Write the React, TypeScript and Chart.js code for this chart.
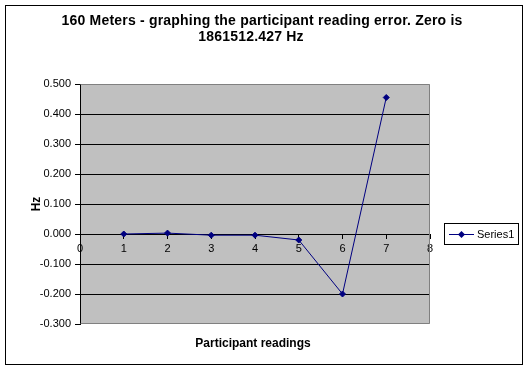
import React, { useEffect, useRef } from "react";
import { Chart, registerables } from "chart.js";

Chart.register(...registerables);

const TITLE_LINES = ["160 Meters - graphing the participant reading error. Zero is", "1861512.427 Hz"];
const X_TITLE = "Participant readings";
const Y_TITLE = "Hz";
const SERIES_NAME = "Series1";

const readings = [1, 2, 3, 4, 5, 6, 7];
const errors = [0.0, 0.003, -0.004, -0.004, -0.02, -0.2, 0.455];

const X_MIN = 0;
const X_MAX = 8;
const X_STEP = 1;
const Y_MIN = -0.3;
const Y_MAX = 0.5;
const Y_STEP = 0.1;

const FONT = "'Liberation Sans', Arial, sans-serif";
const NAVY = "#000080";

function drawDiamond(ctx: CanvasRenderingContext2D, x: number, y: number, r: number) {
  ctx.beginPath();
  ctx.moveTo(x, y - r);
  ctx.lineTo(x + r, y);
  ctx.lineTo(x, y + r);
  ctx.lineTo(x - r, y);
  ctx.closePath();
  ctx.fill();
}

const decor = {
  id: "decor",
  beforeDraw(chart: any) {
    const { ctx, chartArea } = chart;
    ctx.save();
    ctx.fillStyle = "#ffffff";
    ctx.fillRect(0, 0, chart.width, chart.height);
    ctx.strokeStyle = "#000000";
    ctx.lineWidth = 1;
    ctx.strokeRect(5.5, 5.5, 517, 359);
    ctx.fillStyle = "#c0c0c0";
    ctx.fillRect(chartArea.left, chartArea.top, chartArea.right - chartArea.left, chartArea.bottom - chartArea.top);
    ctx.restore();
  },
  afterDraw(chart: any) {
    const { ctx, chartArea } = chart;
    ctx.save();
    ctx.strokeStyle = "#808080";
    ctx.lineWidth = 1;
    const l = Math.round(chartArea.left) + 0.5;
    const t = Math.round(chartArea.top) + 0.5;
    const r = Math.round(chartArea.right) - 0.5;
    const b = Math.round(chartArea.bottom) - 0.5;
    ctx.beginPath();
    ctx.moveTo(l, t);
    ctx.lineTo(r, t);
    ctx.lineTo(r, b);
    ctx.lineTo(l, b);
    ctx.stroke();

    ctx.fillStyle = "#000000";
    ctx.textBaseline = "middle";
    ctx.textAlign = "center";
    (ctx as any).letterSpacing = "0.2px";
    ctx.font = `bold 14px ${FONT}`;
    ctx.fillText(TITLE_LINES[0], 262, 21.5);
    ctx.fillText(TITLE_LINES[1], 251, 37.5);
    (ctx as any).letterSpacing = "0px";

    ctx.font = `bold 12px ${FONT}`;
    ctx.fillText(X_TITLE, 253, 344);

    ctx.save();
    ctx.translate(37, 204);
    ctx.rotate(-Math.PI / 2);
    ctx.fillText(Y_TITLE, 0, 0);
    ctx.restore();

    ctx.strokeStyle = "#000000";
    ctx.strokeRect(444.5, 223.5, 74, 21);
    ctx.strokeStyle = NAVY;
    ctx.beginPath();
    ctx.moveTo(449, 234.5);
    ctx.lineTo(474, 234.5);
    ctx.stroke();
    ctx.fillStyle = NAVY;
    drawDiamond(ctx, 461.5, 234.5, 3.5);
    ctx.fillStyle = "#000000";
    ctx.textAlign = "left";
    ctx.font = `11px ${FONT}`;
    ctx.fillText(SERIES_NAME, 477, 234.5);
    ctx.restore();
  },
};

export default function App() {
  const ref = useRef<HTMLCanvasElement | null>(null);

  useEffect(() => {
    document.body.style.margin = "0";
    const canvas = ref.current;
    if (!canvas) return;
    const chart = new Chart(canvas, {
      type: "line",
      data: {
        datasets: [
          {
            label: SERIES_NAME,
            data: readings.map((x, i) => ({ x, y: errors[i] })),
            borderColor: NAVY,
            backgroundColor: NAVY,
            borderWidth: 1,
            pointStyle: "rectRot",
            pointRadius: 3,
            pointBackgroundColor: NAVY,
            pointBorderColor: NAVY,
            pointBorderWidth: 1,
            tension: 0,
            fill: false,
          },
        ],
      },
      options: {
        responsive: false,
        animation: false,
        devicePixelRatio: 1,
        layout: { padding: { top: 84, right: 98, bottom: 46, left: 20 } },
        plugins: {
          legend: { display: false },
          title: { display: false },
          tooltip: { enabled: false },
        },
        scales: {
          x: {
            type: "linear",
            position: { y: 0 } as any,
            min: X_MIN,
            max: X_MAX,
            ticks: {
              stepSize: X_STEP,
              color: "#000000",
              font: { family: FONT, size: 11 },
              padding: 4,
              maxRotation: 0,
              autoSkip: false,
            },
            grid: {
              drawOnChartArea: false,
              drawTicks: true,
              tickLength: 4,
              tickColor: "#000000",
              color: "#000000",
            },
            border: { display: true, color: "#000000", width: 1 },
          },
          y: {
            type: "linear",
            position: "left",
            min: Y_MIN,
            max: Y_MAX,
            afterFit: (axis: any) => {
              axis.width = 60;
            },
            ticks: {
              stepSize: Y_STEP,
              color: "#000000",
              font: { family: FONT, size: 11 },
              padding: 4,
              callback: (v: any) => Number(v).toFixed(3),
            },
            grid: {
              color: (c: any) => {
                const v = c.tick ? c.tick.value : 0;
                if (Math.abs(v - Y_MAX) < 1e-6 || Math.abs(v - Y_MIN) < 1e-6) return "rgba(0,0,0,0)";
                return "#000000";
              },
              tickColor: "#000000",
              tickLength: 5,
              lineWidth: 1,
            },
            border: { display: true, color: "#000000", width: 1 },
          },
        },
      },
      plugins: [decor],
    });
    return () => chart.destroy();
  }, []);

  return (
    <div style={{ position: "fixed", left: 0, top: 0, width: 528, height: 370 }}>
      <canvas ref={ref} width={528} height={370} />
    </div>
  );
}
